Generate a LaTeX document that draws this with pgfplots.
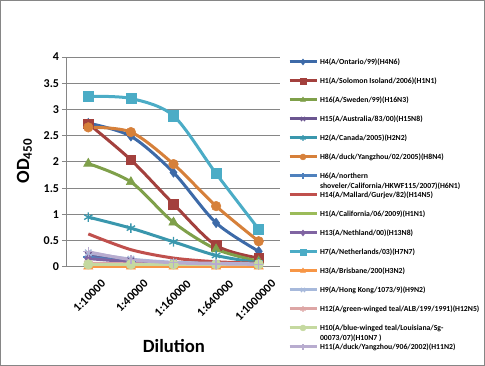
\documentclass[border=0pt]{standalone}
\usepackage{fontspec}
\setmainfont{Carlito}
\usepackage{pgfplots}
\pgfplotsset{compat=1.18}
\definecolor{cA}{HTML}{3D6AA8}
\definecolor{cB}{HTML}{A3403D}
\definecolor{cC}{HTML}{7FA04A}
\definecolor{cD}{HTML}{6B5690}
\definecolor{cE}{HTML}{3A97AD}
\definecolor{cF}{HTML}{D6803A}
\definecolor{cG}{HTML}{4F81BD}
\definecolor{cH}{HTML}{C0504D}
\definecolor{cI}{HTML}{9BBB59}
\definecolor{cJ}{HTML}{8064A2}
\definecolor{cK}{HTML}{4BACC6}
\definecolor{cL}{HTML}{F79646}
\definecolor{cM}{HTML}{A7B9DB}
\definecolor{cN}{HTML}{DDA6A5}
\definecolor{cO}{HTML}{C5D9A0}
\definecolor{cP}{HTML}{B8ACCF}
\definecolor{gridc}{HTML}{868686}
\begin{document}
\begin{tikzpicture}
\path[use as bounding box] (-50.25pt,-74.25pt) rectangle (313.5pt,200.25pt);
\draw[color=gridc, line width=0.75pt] (-49.875pt,-73.875pt) rectangle (313.125pt,199.875pt);
\begin{axis}[
  at={(0,0)}, anchor=south west,
  scale only axis, width=159.75pt, height=157.5pt,
  xmin=-0.5, xmax=4.5, ymin=0, ymax=4,
  xtick={0,1,2,3,4},
  xticklabels={1:10000,1:40000,1:160000,1:640000,1:1000000},
  ytick={0,0.5,1,1.5,2,2.5,3,3.5,4},
  axis x line*=bottom, axis y line*=left,
  axis line style={color=gridc, line width=0.75pt},
  ymajorgrids, grid style={color=gridc, line width=0.75pt},
  tick align=outside, major tick length=3.75pt,
  xtick style={draw=none},
  ytick style={color=gridc, line width=0.75pt},
  /pgf/number format/assume math mode=true,
  ticklabel style={font=\fontsize{9}{10}\selectfont\bfseries},
  xticklabel style={rotate=45, anchor=north east, inner sep=0pt, xshift=3pt, yshift=-10pt},
  yticklabel style={inner sep=0pt, xshift=-2pt},
  xlabel={Dilution},
  ylabel={OD\textsubscript{450}},
  label style={font=\fontsize{14}{16}\selectfont\bfseries},
  xlabel style={at={(axis description cs:0.502,-0.376)}, anchor=center},
  ylabel style={at={(axis description cs:-0.2,0.505)}, anchor=center},
  legend cell align=left,
  legend style={at={(axis description cs:1.0376,0.997)}, anchor=north west,
    draw=none, fill=none, inner sep=0pt, outer sep=0pt,
    row sep=7.75pt, column sep=1.5pt,
    font=\fontsize{5.8}{7.6}\selectfont\bfseries,
    nodes={inner sep=0pt, text height=5pt, text depth=1.5pt}},
  legend image code/.code={
    \draw[#1, mark=none] (0pt,0pt) -- (20.25pt,0pt);
    \draw[#1, mark size=2.2pt] plot coordinates {(10.125pt,0pt)};
  },
  every axis plot/.append style={line width=2.25pt, smooth},
  clip=false,
]
\addplot[color=cA, mark=diamond*, mark size=3.6pt, mark options={line width=0.4pt}] coordinates {(0,2.74) (1,2.49) (2,1.80) (3,0.84) (4,0.30)};
\addlegendentry{H4(A/Ontario/99)(H4N6)}
\addplot[color=cB, mark=square*, mark size=3.6pt, mark options={line width=0.4pt}] coordinates {(0,2.73) (1,2.04) (2,1.20) (3,0.41) (4,0.17)};
\addlegendentry{H1(A/Solomon Isoland/2006)(H1N1)}
\addplot[color=cC, mark=triangle*, mark size=4pt, mark options={line width=0.4pt}] coordinates {(0,1.97) (1,1.62) (2,0.85) (3,0.34) (4,0.11)};
\addlegendentry{H16(A/Sweden/99)(H16N3)}
\addplot[color=cD, mark=x, mark size=3.4pt, mark options={line width=1pt}] coordinates {(0,0.22) (1,0.12) (2,0.08) (3,0.06) (4,0.05)};
\addlegendentry{H15(A/Australia/83/00)(H15N8)}
\addplot[color=cE, mark=asterisk, mark size=3.6pt, mark options={line width=1pt}] coordinates {(0,0.95) (1,0.74) (2,0.48) (3,0.22) (4,0.08)};
\addlegendentry{H2(A/Canada/2005)(H2N2)}
\addplot[color=cF, mark=*, mark size=3.6pt, mark options={line width=0.4pt}] coordinates {(0,2.66) (1,2.57) (2,1.96) (3,1.16) (4,0.49)};
\addlegendentry{H8(A/duck/Yangzhou/02/2005)(H8N4)}
\addplot[color=cG, mark=+, mark size=3.6pt, mark options={line width=1pt}] coordinates {(0,0.19) (1,0.10) (2,0.07) (3,0.06) (4,0.05)};
\addlegendentry{\begin{tabular}[t]{@{}l@{}}H6(A/northern\\shoveler/California/HKWF115/2007)(H6N1)\end{tabular}}
\addplot[color=cH, mark=none] coordinates {(0,0.63) (1,0.33) (2,0.17) (3,0.10) (4,0.07)};
\addlegendentry{H14(A/Mallard/Gurjev/82)(H14N5)}
\addplot[color=cI, mark=none] coordinates {(0,0.04) (1,0.04) (2,0.04) (3,0.04) (4,0.04)};
\addlegendentry{H1(A/California/06/2009)(H1N1)}
\addplot[color=cJ, mark=diamond*, mark size=3.6pt, mark options={line width=0.4pt}] coordinates {(0,0.16) (1,0.10) (2,0.07) (3,0.05) (4,0.05)};
\addlegendentry{H13(A/Nethland/00)(H13N8)}
\addplot[color=cK, mark=square*, mark size=3.8pt, mark options={line width=0.4pt}] coordinates {(0,3.25) (1,3.21) (2,2.88) (3,1.78) (4,0.72)};
\addlegendentry{H7(A/Netherlands/03)(H7N7)}
\addplot[color=cL, mark=triangle*, mark size=4pt, mark options={line width=0.4pt}] coordinates {(0,0.01) (1,0.01) (2,0.01) (3,0.01) (4,0.01)};
\addlegendentry{H3(A/Brisbane/200(H3N2)}
\addplot[color=cM, mark=x, mark size=3.4pt, mark options={line width=1pt}] coordinates {(0,0.27) (1,0.15) (2,0.09) (3,0.07) (4,0.06)};
\addlegendentry{H9(A/Hong Kong/1073/9)(H9N2)}
\addplot[color=cN, mark=asterisk, mark size=3.6pt, mark options={line width=1pt}] coordinates {(0,0.07) (1,0.06) (2,0.05) (3,0.05) (4,0.05)};
\addlegendentry{H12(A/green-winged teal/ALB/199/1991)(H12N5)}
\addplot[color=cO, mark=*, mark size=3.6pt, mark options={line width=0.4pt}] coordinates {(0,0.05) (1,0.05) (2,0.05) (3,0.05) (4,0.05)};
\addlegendentry{\begin{tabular}[t]{@{}l@{}}H10(A/blue-winged teal/Louisiana/Sg-\\00073/07)(H10N7 )\end{tabular}}
\addplot[color=cP, mark=+, mark size=3.6pt, mark options={line width=1pt}] coordinates {(0,0.29) (1,0.14) (2,0.08) (3,0.06) (4,0.05)};
\addlegendentry{H11(A/duck/Yangzhou/906/2002)(H11N2)}
\end{axis}
\end{tikzpicture}
\end{document}
